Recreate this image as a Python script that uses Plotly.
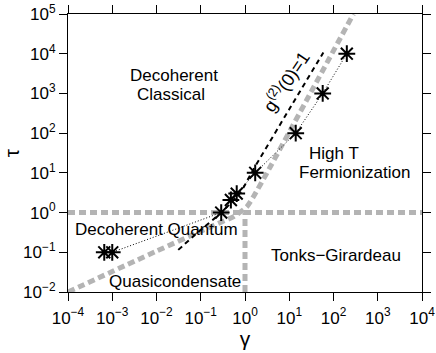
import plotly.graph_objects as go

# measured points (gamma, tau)
gamma_pts = [6.6e-4, 1.0e-3, 0.29, 0.48, 0.65, 1.7, 14.0, 57.0, 200.0]
tau_pts = [0.1, 0.1, 1.0, 2.07, 3.0, 10.0, 100.0, 1000.0, 10000.0]

# g2(0)=1 line (black dashed)
g2_gamma = [0.031, 0.081, 0.29, 0.78, 1.48, 10.0, 59.0]
g2_tau = [0.115, 0.30, 1.0, 3.16, 11.2, 400.0, 10700.0]

# quasicondensate / fermionization boundary (grey)
qc_gamma = [1e-4, 1e-2, 0.1, 0.316, 0.543, 1.1, 1.55, 3.1, 31.6, 282.0]
qc_tau = [1e-2, 0.107, 0.34, 0.60, 0.78, 1.40, 2.51, 9.8, 1120.0, 1e5]

# regime boundaries (grey)
h_gamma = [1e-4, 1e4]
h_tau = [1.0, 1.0]
v_gamma = [1.0, 1.0]
v_tau = [1e-2, 1.0]

x_ticks = [1e-4, 1e-3, 1e-2, 1e-1, 1e0, 1e1, 1e2, 1e3, 1e4]
x_labels = ['10<sup>−4</sup>', '10<sup>−3</sup>', '10<sup>−2</sup>', '10<sup>−1</sup>',
            '10<sup>0</sup>', '10<sup>1</sup>', '10<sup>2</sup>', '10<sup>3</sup>', '10<sup>4</sup>']
y_ticks = [1e-2, 1e-1, 1e0, 1e1, 1e2, 1e3, 1e4, 1e5]
y_labels = ['10<sup>−2</sup>', '10<sup>−1</sup>', '10<sup>0</sup>', '10<sup>1</sup>',
            '10<sup>2</sup>', '10<sup>3</sup>', '10<sup>4</sup>', '10<sup>5</sup>']

GREY = '#b4b4b4'
FONT = 'Liberation Sans, Arial, sans-serif'

fig = go.Figure()

grey_line = dict(color=GREY, width=5, dash='7px,4px')
fig.add_trace(go.Scatter(x=h_gamma, y=h_tau, mode='lines', line=grey_line, hoverinfo='skip'))
fig.add_trace(go.Scatter(x=v_gamma, y=v_tau, mode='lines', line=grey_line, hoverinfo='skip'))
fig.add_trace(go.Scatter(x=qc_gamma, y=qc_tau, mode='lines', line=dict(color=GREY, width=5, dash='7px,4px', shape='spline', smoothing=0.6), hoverinfo='skip'))

# dotted guide through the data
fig.add_trace(go.Scatter(x=gamma_pts, y=tau_pts, mode='lines',
                         line=dict(color='black', width=1, dash='1px,2px')))

# g2(0)=1 dashed line
fig.add_trace(go.Scatter(x=g2_gamma, y=g2_tau, mode='lines',
                         line=dict(color='black', width=2, dash='5px,4px', shape='spline', smoothing=0.6)))

fig.add_trace(go.Scatter(x=gamma_pts, y=tau_pts, mode='markers',
                         marker=dict(symbol='asterisk-open', size=14, color='black',
                                     line=dict(color='black', width=2))))

def label(text, x, y, xanchor='center', angle=0, size=17):
    fig.add_annotation(x=x, y=y, text=text, showarrow=False, xanchor=xanchor,
                       yanchor='middle', textangle=angle,
                       font=dict(family=FONT, size=size, color='black'))

label('Decoherent', -1.605, 3.46)
label('Classical', -1.67, 2.98)
label('High T', 1.394, 1.50, xanchor='left')
label('Fermionization', 1.175, 1.02, xanchor='left')
label('Decoherent Quantum', -3.887, -0.42, xanchor='left')
label('Quasicondensate', -1.571, -1.725)
label('Tonks−Girardeau', 2.05, -1.07)
label('g<sup>(2)</sup>(0)=1', 0.92, 3.3, angle=-56, size=18)

axis_common = dict(
    type='log', showgrid=False, zeroline=False, automargin=False,
    showline=True, linecolor='black', linewidth=1.2, mirror='ticks',
    ticks='outside', ticklen=8, tickwidth=1.2, tickcolor='black',
    ticklabeloverflow='allow',
    tickfont=dict(family=FONT, size=17, color='black'),
)

fig.update_xaxes(axis_common, range=[-4, 4], tickmode='array', tickvals=x_ticks, ticktext=x_labels,
                 ticklabelstandoff=2,
                 title=dict(text='γ', font=dict(family=FONT, size=21, color='black'), standoff=0))
fig.update_yaxes(axis_common, range=[-2, 5], tickmode='array', tickvals=y_ticks, ticktext=y_labels,
                 title=dict(text='τ', font=dict(family=FONT, size=21, color='black'), standoff=9))

fig.update_layout(
    width=436, height=353,
    margin=dict(l=68, r=14, t=14, b=61),
    paper_bgcolor='white', plot_bgcolor='white',
    showlegend=False,
    font=dict(family=FONT, color='black'),
)

# drop the browser's default body margin so the figure sits at the window corner
fig.write_html("out.html", config={'displayModeBar': False},
               post_script="document.body.style.margin='0';")
